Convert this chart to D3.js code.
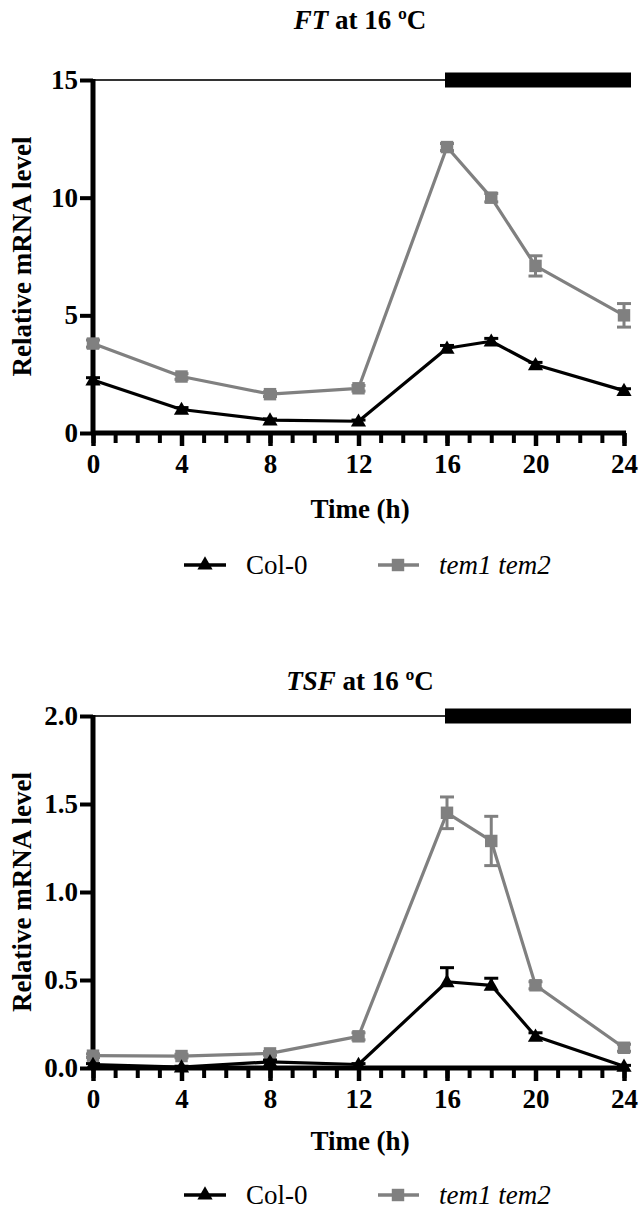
<!DOCTYPE html>
<html>
<head>
<meta charset="utf-8">
<script src="https://cdn.jsdelivr.net/npm/d3@7"></script>
<style>
  html, body { margin: 0; padding: 0; background: #fff; }
  svg { display: block; }
  svg text { font-family: "Liberation Serif", "Times New Roman", Times, serif !important; }
</style>
</head>
<body>
<svg id="chart" width="641" height="1212"></svg>
<script>
// ---- data ----
const timePoints = [0, 4, 8, 12, 16, 18, 20, 24];
const xTickValues = [0, 4, 8, 12, 16, 20, 24];

const ftCol0 = [2.25, 1.0, 0.55, 0.5, 3.6, 3.9, 2.9, 1.8];
const ftCol0Err = [0.1, 0.08, 0.05, 0.05, 0.12, 0.12, 0.1, 0.08];
const ftTem = [3.8, 2.4, 1.65, 1.9, 12.15, 10.0, 7.1, 5.0];
const ftTemErr = [0.15, 0.12, 0.1, 0.12, 0.15, 0.18, 0.43, 0.5];
const ftYTicks = [0, 5, 10, 15];

const tsfCol0 = [0.02, 0.005, 0.035, 0.02, 0.49, 0.47, 0.18, 0.01];
const tsfCol0Err = [0.005, 0.005, 0.01, 0.005, 0.08, 0.04, 0.02, 0.005];
const tsfTem = [0.07, 0.068, 0.083, 0.18, 1.45, 1.29, 0.47, 0.115];
const tsfTemErr = [0.01, 0.01, 0.01, 0.02, 0.09, 0.14, 0.02, 0.02];
const tsfYTicks = [0.0, 0.5, 1.0, 1.5, 2.0];

const seriesNames = ["Col-0", "tem1 tem2"];
const darkStart = 16, darkEnd = 24;

// ---- styles ----
const BLACK = "#000";
const GRAY = "#808080";
const FONT = 27;
const SERIF = "Liberation Serif";

const svg = d3.select("#chart").attr("font-family", SERIF);

function drawPanel(cfg) {
  const g = svg.append("g");
  const x = d3.scaleLinear().domain([0, 24]).range([93, 624]);
  const y = d3.scaleLinear().domain([0, cfg.yMax]).range([cfg.y0, cfg.yTop]);

  // title
  const t = g.append("text")
    .attr("x", 360).attr("y", cfg.titleY)
    .attr("text-anchor", "middle").attr("font-family", SERIF)
    .attr("font-size", FONT).attr("font-weight", "bold");
  t.append("tspan").attr("font-style", "italic").text(cfg.gene);
  t.append("tspan").text(" at 16 ºC");

  // photoperiod line & dark bar
  g.append("line")
    .attr("x1", x(0)).attr("x2", x(darkStart))
    .attr("y1", y(cfg.yMax)).attr("y2", y(cfg.yMax))
    .attr("stroke", "#333").attr("stroke-width", 2);
  g.append("rect")
    .attr("x", x(darkStart) - 2).attr("y", y(cfg.yMax) - 7.5)
    .attr("width", x(darkEnd) - x(darkStart) + 9).attr("height", 15)
    .attr("fill", "#000");

  // y axis
  const yAxis = d3.axisLeft(y).tickValues(cfg.yTicks)
    .tickFormat(cfg.fmt).tickSize(13).tickPadding(2);
  const ya = g.append("g").attr("transform", `translate(${x(0)},0)`).call(yAxis)
    .attr("font-family", SERIF);
  ya.select(".domain").remove();
  ya.selectAll(".tick line").attr("stroke", BLACK).attr("stroke-width", 4);
  ya.selectAll(".tick text").attr("font-size", FONT).attr("font-weight", "bold")
    .attr("fill", BLACK);
  g.append("line").attr("x1", x(0)).attr("x2", x(0))
    .attr("y1", y(cfg.yMax) - 1).attr("y2", y(0) + 2)
    .attr("stroke", BLACK).attr("stroke-width", 5);

  // x axis minor ticks
  const xMinor = d3.axisBottom(x).ticks(24).tickSize(10).tickFormat("");
  const xm = g.append("g").attr("transform", `translate(0,${y(0)})`).call(xMinor);
  xm.select(".domain").remove();
  xm.selectAll(".tick line").attr("stroke", BLACK).attr("stroke-width", 4);
  // x axis major ticks
  const xAxis = d3.axisBottom(x).tickValues(xTickValues).tickSize(13).tickPadding(8);
  const xa = g.append("g").attr("transform", `translate(0,${y(0)})`).call(xAxis)
    .attr("font-family", SERIF);
  xa.select(".domain").remove();
  xa.selectAll(".tick line").attr("stroke", BLACK).attr("stroke-width", 4.5);
  xa.selectAll(".tick text").attr("font-size", FONT).attr("font-weight", "bold")
    .attr("fill", BLACK);
  g.append("line").attr("x1", x(0) - 2).attr("x2", x(24) + 2)
    .attr("y1", y(0)).attr("y2", y(0))
    .attr("stroke", BLACK).attr("stroke-width", 5);

  // axis labels
  g.append("text").attr("x", 360).attr("y", cfg.xLabelY)
    .attr("text-anchor", "middle").attr("font-size", FONT).attr("font-weight", "bold")
    .attr("font-family", SERIF).text("Time (h)");
  g.append("text")
    .attr("transform", `translate(${cfg.yLabelX},${(y(0) + y(cfg.yMax)) / 2}) rotate(-90)`)
    .attr("text-anchor", "middle").attr("font-size", FONT).attr("font-weight", "bold")
    .attr("font-family", SERIF).text("Relative mRNA level");

  const line = d3.line().x((d, i) => x(timePoints[i])).y(d => y(d));
  const tri = d3.symbol().type(d3.symbolTriangle).size(100);
  const sq = d3.symbol().type(d3.symbolSquare).size(155);

  function series(vals, errs, color, sym, upperOnly) {
    const s = g.append("g");
    vals.forEach((v, i) => {
      const cx = x(timePoints[i]);
      const hi = y(v + errs[i]);
      const lo = upperOnly ? y(v) : y(Math.max(0, v - errs[i]));
      s.append("line").attr("x1", cx).attr("x2", cx).attr("y1", hi).attr("y2", lo)
        .attr("stroke", color).attr("stroke-width", 3);
      s.append("line").attr("x1", cx - 7).attr("x2", cx + 7).attr("y1", hi).attr("y2", hi)
        .attr("stroke", color).attr("stroke-width", 3);
      if (!upperOnly) {
        s.append("line").attr("x1", cx - 7).attr("x2", cx + 7).attr("y1", lo).attr("y2", lo)
          .attr("stroke", color).attr("stroke-width", 3);
      }
    });
    s.append("path").datum(vals).attr("d", line)
      .attr("fill", "none").attr("stroke", color).attr("stroke-width", 3.2)
      .attr("stroke-linejoin", "round");
    s.selectAll(".m").data(vals).enter().append("path")
      .attr("transform", (d, i) => `translate(${x(timePoints[i])},${y(d) + (sym === tri ? 1 : 0)})`)
      .attr("d", sym).attr("fill", color);
  }
  series(cfg.tem, cfg.temErr, GRAY, sq, false);
  series(cfg.col, cfg.colErr, BLACK, tri, true);

  // legend
  const lg = g.append("g").attr("transform", `translate(0,${cfg.legendY})`);
  lg.append("line").attr("x1", 184).attr("x2", 226).attr("y1", 0).attr("y2", 0)
    .attr("stroke", BLACK).attr("stroke-width", 3.5);
  lg.append("path").attr("transform", "translate(205,0)").attr("d", tri).attr("fill", BLACK);
  lg.append("text").attr("x", 246).attr("y", 9).attr("font-size", FONT)
    .attr("font-family", SERIF).text(seriesNames[0]);
  lg.append("line").attr("x1", 378).attr("x2", 419).attr("y1", 0).attr("y2", 0)
    .attr("stroke", GRAY).attr("stroke-width", 3.5);
  lg.append("path").attr("transform", "translate(398,0)").attr("d", sq).attr("fill", GRAY);
  lg.append("text").attr("x", 439).attr("y", 9).attr("font-size", FONT)
    .attr("font-family", SERIF).attr("font-style", "italic").text(seriesNames[1]);
}

drawPanel({
  gene: "FT", titleY: 29, yMax: 15, y0: 433, yTop: 80, yTicks: ftYTicks,
  fmt: d3.format("d"), col: ftCol0, colErr: ftCol0Err, tem: ftTem, temErr: ftTemErr,
  xLabelY: 518, yLabelX: 31, legendY: 565
});
drawPanel({
  gene: "TSF", titleY: 690, yMax: 2, y0: 1068, yTop: 716, yTicks: tsfYTicks,
  fmt: d3.format(".1f"), col: tsfCol0, colErr: tsfCol0Err, tem: tsfTem, temErr: tsfTemErr,
  xLabelY: 1150, yLabelX: 31, legendY: 1195
});
</script>
</body>
</html>
